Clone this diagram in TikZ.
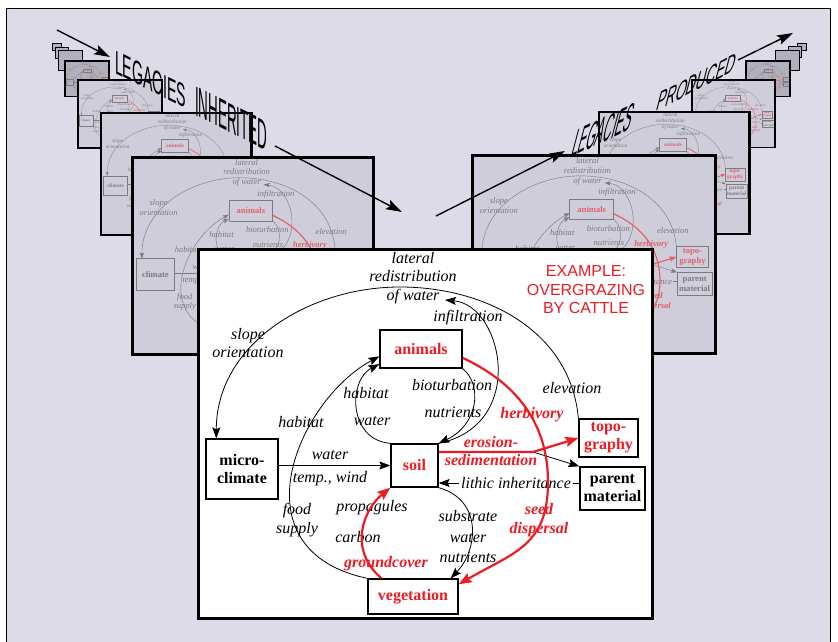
\documentclass[tikz,border=0pt]{standalone}
\usepackage{fontspec}
\setmainfont{Liberation Serif}
\newfontfamily\legfont{Liberation Sans}
\usetikzlibrary{arrows.meta}

\definecolor{lavbg}{RGB}{221,219,232}
\definecolor{framebg}{RGB}{207,205,217}
\definecolor{farbg}{RGB}{178,176,188}
\definecolor{hotred}{RGB}{236,28,36}
\colorlet{ink}{black}
\colorlet{hot}{hotred}
\def\dscale{1}

\tikzset{
    box/.style={
        draw=ink,
        line width=\dscale*1.3pt,
        text=ink,
        inner sep=0pt,
        align=center,
        font=\bfseries\fontsize{16}{18}\selectfont
    },
    hotbox/.style={box, text=hot},
    lbl/.style={
        text=ink,
        inner sep=1pt,
        align=center,
        font=\itshape\fontsize{16}{18.5}\selectfont
    },
    hotlbl/.style={lbl, text=hot, font=\bfseries\itshape\fontsize{16}{18.5}\selectfont},
    plain/.style={draw=ink, line width=\dscale*0.8pt},
    link/.style={plain, -{Stealth[length=11pt, width=8pt, inset=2pt, scale=\dscale]}},
    hotlink/.style={draw=hot, line width=\dscale*2.2pt, -{Stealth[length=13pt, width=10pt, inset=2pt, scale=\dscale]}},
    legarrow/.style={line width=1.4pt, -{Stealth[length=16pt, width=10pt, inset=3pt]}},
    legword/.style={inner sep=0pt, anchor=base west, font=\legfont}
}

% the soil map, top left corner of its frame at (0,0)
\newcommand{\soilmap}[1]{%
    % boxes
    \node[hotbox, minimum width=82, minimum height=38] (animals) at (223,-99) {animals};
    \node[box, minimum width=72, minimum height=60] (mc) at (44,-219) {#1};
    \node[hotbox, minimum width=47, minimum height=43] (soil) at (216.5,-215.5) {soil};
    \node[hotbox, minimum width=59, minimum height=38] (topo) at (410.5,-188) {topo-\\graphy};
    \node[box, minimum width=65, minimum height=43] (pm) at (414.5,-238.5) {parent\\material};
    \node[hotbox, minimum width=90, minimum height=35] (veg) at (215,-346.5) {vegetation};
    % labels
    \node[lbl] (lrw) at (215,-28) {lateral\\redistribution\\of water};
    \node[lbl] (infl) at (270,-68) {infiltration};
    \node[lbl] (slope) at (50,-93) {slope\\orientation};
    \node[lbl] (elev) at (374,-138) {elevation};
    \node[hotlbl] (herb) at (334,-165) {herbivory};
    \node[lbl] (biot) at (254,-135) {bioturbation};
    \node[lbl] (nutr) at (255,-162) {nutrients};
    \node[lbl] (habin) at (168,-143) {habitat};
    \node[lbl] (watin) at (174,-171) {water};
    \node[lbl] (habout) at (103,-172) {habitat};
    \node[lbl] (watmc) at (132,-205) {water};
    \node[lbl] (temp) at (132,-229) {temp., wind};
    \node[hotlbl] (eros) at (293,-201) {erosion-\\sedimentation};
    \node[lbl, inner sep=2pt] (lith) at (318,-233) {lithic inheritance};
    \node[lbl] (food) at (99,-270) {food\\supply};
    \node[lbl] (prop) at (174,-258) {propagules};
    \node[lbl] (carb) at (160,-287) {carbon};
    \node[hotlbl] (grnd) at (188,-314) {groundcover};
    \node[lbl] (subs) at (270,-287) {substrate\\[2pt]water\\[2pt]nutrients};
    \node[hotlbl] (seed) at (341,-270) {seed\\dispersal};
    % connectors
    \coordinate (arctop) at (202,-37);
    \coordinate (infend) at (247,-50);
    \coordinate (ebend) at (335,-202);
    \coordinate (herbmid) at (350,-232);
    \draw[link] (topo.north west) to[out=95,in=0] (arctop) to[out=180,in=90] (mc.130);
    \draw[link] (soil.north east) .. controls (330,-175) and (305,-55) .. (infend);
    \draw[link] (animals.south east) .. controls (285,-135) and (280,-175) .. (soil.north east);
    \draw[link] (soil.north west) .. controls (150,-190) and (150,-130) .. (animals.200);
    \draw[link] (veg.north west) .. controls (35,-300) and (100,-150) .. (animals.190);
    \draw[link] (mc.east |- soil.west) -- (soil.west);
    \draw[plain] (pm.west |- lith.east) -- (lith.east);
    \draw[link] (lith.west) -- (soil.east |- lith.west);
    \draw[link] (ebend) -- (pm.north west);
    \draw[hotlink] (soil.east |- ebend) -- (ebend) -- (topo.west);
    \draw[hotlink] (animals.-12) to[out=-25,in=90] (herbmid) to[out=-90,in=30,looseness=1.2] (veg.15);
    \draw[hotlink] (veg.150) .. controls (150,-300) and (165,-260) .. (soil.south west);
    \draw[link] (soil.south east) .. controls (285,-250) and (280,-300) .. ([xshift=-8]veg.north east);
}

% one faded frame of the stack: x, y, scale, border, fill
\newcommand{\legframe}[5]{%
    \begin{scope}[shift={(#1,#2)}, scale=#3, transform shape]
        \fill[#5] (0,0) rectangle (454,-368);
        \ifdim#3pt>0.09pt
        \begin{scope}
            \clip (0,0) rectangle (454,-368);
            \def\dscale{#3}
            \colorlet{ink}{black!40!framebg}
            \colorlet{hot}{hotred!60!framebg}
            \soilmap{climate}
        \end{scope}
        \fi
        \draw[line width=#4] (0,0) rectangle (454,-368);
    \end{scope}}

\begin{document}
\begin{tikzpicture}[x=1pt, y=1pt]
    \useasboundingbox (0,0) rectangle (838,641);
    \fill[white] (0,0) rectangle (838,641);
    \filldraw[fill=lavbg, draw=black, line width=0.8pt] (6,-5) rectangle (830,633);

    % Legacies inherited - back to front
    \foreach \xa/\ya/\s/\w/\f in {52/598/0.02/0.6pt/farbg, 55/594/0.03/0.8pt/farbg,
        58/590/0.053/1pt/farbg, 65/580/0.097/1.2pt/farbg, 78/561/0.185/1.6pt/framebg,
        101/528/0.332/2.5pt/framebg, 132/483/0.533/3pt/framebg}
        {\legframe{\xa}{\ya}{\s}{\w}{\f}}

    % Legacies produced - back to front
    \foreach \xa/\ya/\s/\w/\f in {797/598/0.02/0.6pt/farbg, 788/595/0.03/0.8pt/farbg,
        775/590/0.053/1pt/farbg, 746/580/0.097/1.2pt/farbg, 692/561/0.183/1.6pt/framebg,
        599/529/0.332/2.5pt/framebg, 472/485/0.537/3pt/framebg}
        {\legframe{\xa}{\ya}{\s}{\w}{\f}}

    % Titles and arrows
    \coordinate (inA) at (57,611);
    \coordinate (inB) at (110,584);
    \coordinate (inC) at (275,495);
    \coordinate (inD) at (402,429);
    \coordinate (outA) at (436,425);
    \coordinate (outB) at (565,490);
    \coordinate (outC) at (738,581);
    \coordinate (outD) at (793,608);
    \draw[legarrow] (inA) -- (inB);
    \node[legword, yslant=-0.5, xscale=0.43] (inherit1) at (115,568) {\fontsize{33}{33}\selectfont LEGACIES};
    \node[legword, yslant=-0.5, xscale=0.32] (inherit2) at (195,526) {\fontsize{42}{42}\selectfont INHERITED};
    \draw[legarrow] (inC) -- (inD);
    \draw[legarrow] (outA) -- (outB);
    \node[legword, yslant=0.47, xslant=0.3, xscale=0.34] (produce1) at (570,483) {\fontsize{35}{35}\selectfont LEGACIES};
    \node[legword, yslant=0.52, xslant=0.3, xscale=0.57] (produce2) at (655,529) {\fontsize{24}{24}\selectfont PRODUCED};
    \draw[legarrow] (outC) -- (outD);

    % Main map
    \filldraw[fill=white, draw=black, line width=3pt] (198,391) rectangle (652,23);
    \begin{scope}[shift={(198,391)}]
        \soilmap{micro-\\climate}
    \end{scope}
    \node[font=\legfont\fontsize{16}{18.5}\selectfont, text=hotred, align=center] (example) at (586,351) {EXAMPLE:\\OVERGRAZING\\BY CATTLE};
\end{tikzpicture}
\end{document}
